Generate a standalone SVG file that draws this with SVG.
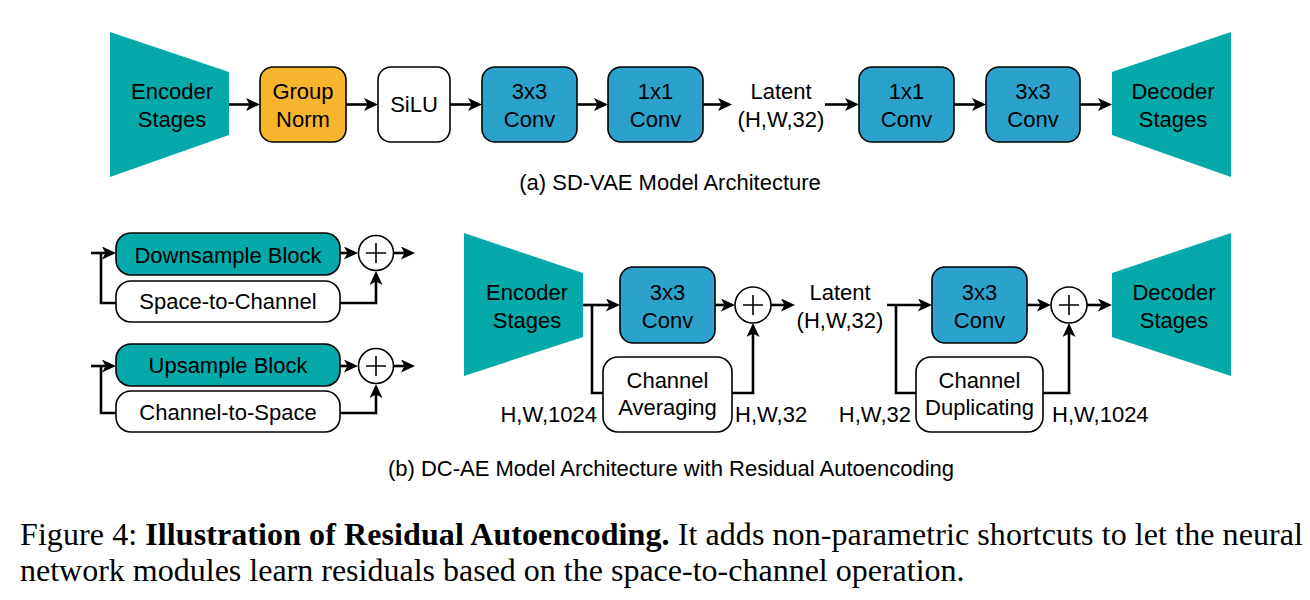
<svg xmlns="http://www.w3.org/2000/svg" width="1310" height="600" viewBox="0 0 1310 600">
<defs>
<marker id="ah" markerUnits="userSpaceOnUse" markerWidth="14" markerHeight="13" refX="9" refY="6.5" orient="auto">
<path d="M0,0 L14,6.5 L0,13 L3.5,6.5 Z" fill="#000"/>
</marker>
<style>
.t{font-family:"Liberation Sans",Arial,Helvetica,sans-serif;font-size:22px;fill:#000;text-anchor:middle}
.l{font-family:"Liberation Sans",Arial,Helvetica,sans-serif;font-size:22px;fill:#000}
.box{stroke:#000;stroke-width:1.6}
.teal{fill:#05A9A9}
.blue{fill:#2AA2CC}
.orange{fill:#F7B52D}
.white{fill:#fff}
.c{fill:none;stroke:#000;stroke-width:2.6}
.a{marker-end:url(#ah)}
.plus{fill:#fff;stroke:#000;stroke-width:1.6}
.cap{font-family:"Liberation Serif","Times New Roman",serif;font-size:32px;fill:#000}
</style>
</defs>
<rect width="1310" height="600" fill="#fff"/>

<!-- (a) SD-VAE -->
<g id="a-encoder"><polygon class="teal" points="110,32 229,72 229,135 110,177"/><text class="t" x="172" y="99">Encoder</text><text class="t" x="172" y="127">Stages</text></g>
<g id="a-groupnorm"><rect class="box orange" x="260" y="67" width="86" height="75" rx="13"/><text class="t" x="303" y="99">Group</text><text class="t" x="303" y="127">Norm</text></g>
<g id="a-silu"><rect class="box white" x="378" y="67" width="72" height="75" rx="13"/><text class="t" x="414" y="112">SiLU</text></g>
<g id="a-conv3a"><rect class="box blue" x="482" y="67" width="95" height="75" rx="13"/><text class="t" x="529.5" y="99">3x3</text><text class="t" x="529.5" y="127">Conv</text></g>
<g id="a-conv1a"><rect class="box blue" x="608" y="67" width="95" height="75" rx="13"/><text class="t" x="655.5" y="99">1x1</text><text class="t" x="655.5" y="127">Conv</text></g>
<g id="a-latent"><text class="t" x="781" y="99">Latent</text><text class="t" x="781" y="127">(H,W,32)</text></g>
<g id="a-conv1b"><rect class="box blue" x="859" y="67" width="95" height="75" rx="13"/><text class="t" x="906.5" y="99">1x1</text><text class="t" x="906.5" y="127">Conv</text></g>
<g id="a-conv3b"><rect class="box blue" x="986" y="67" width="94" height="75" rx="13"/><text class="t" x="1033" y="99">3x3</text><text class="t" x="1033" y="127">Conv</text></g>
<g id="a-decoder"><polygon class="teal" points="1112,72 1231,32 1231,177 1112,135"/><text class="t" x="1173" y="99">Decoder</text><text class="t" x="1173" y="127">Stages</text></g>
<text class="t" x="670" y="190">(a) SD-VAE Model Architecture</text>

<!-- (b) left legend blocks -->
<g id="b-down"><rect class="box teal" x="116" y="233" width="224" height="42" rx="15"/><text class="t" x="228" y="263">Downsample Block</text></g>
<g id="b-s2c"><rect class="box white" x="116" y="281" width="224" height="41" rx="15"/><text class="t" x="228" y="309">Space-to-Channel</text></g>
<g id="b-add1"><circle class="plus" cx="376" cy="253" r="17.5"/><path d="M366,253 H386 M376,243 V263" stroke="#000" stroke-width="1.6"/></g>
<g id="b-up"><rect class="box teal" x="116" y="344" width="224" height="42" rx="15"/><text class="t" x="228" y="373">Upsample Block</text></g>
<g id="b-c2s"><rect class="box white" x="116" y="391" width="224" height="41" rx="15"/><text class="t" x="228" y="420">Channel-to-Space</text></g>
<g id="b-add2"><circle class="plus" cx="376" cy="366" r="17.5"/><path d="M366,366 H386 M376,356 V376" stroke="#000" stroke-width="1.6"/></g>

<!-- (b) main -->
<g id="b-encoder"><polygon class="teal" points="464,233 583,273 583,337 464,376"/><text class="t" x="527" y="300">Encoder</text><text class="t" x="527" y="328">Stages</text></g>
<g id="b-conv3a"><rect class="box blue" x="620" y="267" width="95" height="76" rx="13"/><text class="t" x="667.5" y="300">3x3</text><text class="t" x="667.5" y="328">Conv</text></g>
<g id="b-add3"><circle class="plus" cx="753" cy="305" r="18"/><path d="M743,305 H763 M753,295 V315" stroke="#000" stroke-width="1.6"/></g>
<g id="b-avg"><rect class="box white" x="603" y="357" width="129" height="75" rx="15"/><text class="t" x="667.5" y="388">Channel</text><text class="t" x="667.5" y="415">Averaging</text></g>
<g id="b-latent"><text class="t" x="840" y="300">Latent</text><text class="t" x="840" y="328">(H,W,32)</text></g>
<g id="b-conv3b"><rect class="box blue" x="932" y="267" width="95" height="76" rx="13"/><text class="t" x="979.5" y="300">3x3</text><text class="t" x="979.5" y="328">Conv</text></g>
<g id="b-add4"><circle class="plus" cx="1069" cy="305" r="18"/><path d="M1059,305 H1079 M1069,295 V315" stroke="#000" stroke-width="1.6"/></g>
<g id="b-dup"><rect class="box white" x="916" y="357" width="127" height="75" rx="15"/><text class="t" x="979.5" y="388">Channel</text><text class="t" x="979.5" y="415">Duplicating</text></g>
<g id="b-decoder"><polygon class="teal" points="1112,273 1231,233 1231,376 1112,337"/><text class="t" x="1174" y="300">Decoder</text><text class="t" x="1174" y="328">Stages</text></g>
<g id="b-labels">
<text class="l" x="597" y="422" text-anchor="end">H,W,1024</text>
<text class="l" x="735" y="422">H,W,32</text>
<text class="l" x="911" y="422" text-anchor="end">H,W,32</text>
<text class="l" x="1052" y="422">H,W,1024</text>
</g>
<text class="t" x="671" y="476">(b) DC-AE Model Architecture with Residual Autoencoding</text>

<!-- connectors -->
<g id="connectors">
<path class="c a" d="M229,104.5 H255"/>
<path class="c a" d="M346,104.5 H373"/>
<path class="c a" d="M450,104.5 H477"/>
<path class="c a" d="M577,104.5 H603"/>
<path class="c a" d="M703,104.5 H727"/>
<path class="c a" d="M825,104.5 H854"/>
<path class="c a" d="M954,104.5 H981"/>
<path class="c a" d="M1080,104.5 H1107"/>

<path class="c a" d="M91,253 H111"/>
<path class="c" d="M101,253 V303 H116"/>
<path class="c a" d="M340,253 H353"/>
<path class="c a" d="M340,303 H376 V276"/>
<path class="c a" d="M393.5,253 H410"/>
<path class="c a" d="M91,366 H111"/>
<path class="c" d="M101,366 V413 H116"/>
<path class="c a" d="M340,366 H353"/>
<path class="c a" d="M340,413 H376 V389"/>
<path class="c a" d="M393.5,366 H410"/>

<path class="c a" d="M583,305 H615"/>
<path class="c" d="M592,305 V393 H603"/>
<path class="c a" d="M715,305 H730"/>
<path class="c a" d="M732,393 H753 V328"/>
<path class="c a" d="M771,305 H790"/>
<path class="c a" d="M887,305 H927"/>
<path class="c" d="M896,305 V393 H916"/>
<path class="c a" d="M1027,305 H1046"/>
<path class="c a" d="M1043,393 H1069 V328"/>
<path class="c a" d="M1087,305 H1107"/>
</g>

<!-- figure caption -->
<text class="cap" x="20" y="545" textLength="1283" lengthAdjust="spacing">Figure 4: <tspan font-weight="bold">Illustration of Residual Autoencoding.</tspan> It adds non-parametric shortcuts to let the neural</text>
<text class="cap" x="20" y="581">network modules learn residuals based on the space-to-channel operation.</text>
</svg>
